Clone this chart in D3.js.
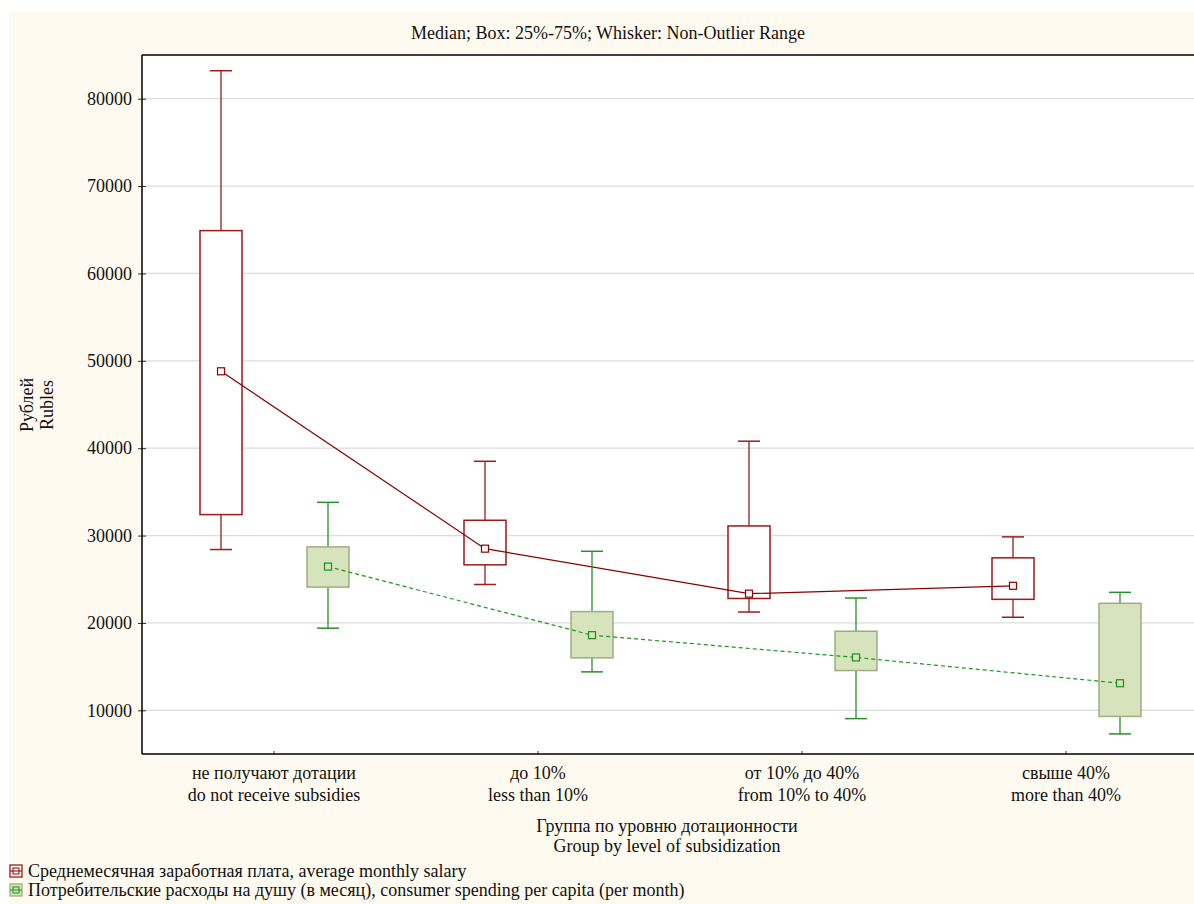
<!DOCTYPE html>
<html><head><meta charset="utf-8">
<script src="https://cdn.jsdelivr.net/npm/d3@7"></script>
<style>
html,body{margin:0;padding:0;background:#fff;overflow:hidden;}
svg{display:block;font-family:"Liberation Serif","Times New Roman",serif;overflow:hidden;}
</style></head>
<body>
<svg id="c" width="1194" height="904"></svg>
<script>
const categories = [
  ["не получают дотации","do not receive subsidies"],
  ["до 10%","less than 10%"],
  ["от 10% до 40%","from 10% to 40%"],
  ["свыше 40%","more than 40%"]
];
const seriesNames = [
  "Среднемесячная заработная плата, average monthly salary",
  "Потребительские расходы на душу (в месяц), consumer spending per capita (per month)"
];
// [whiskerLow, q1, median, q3, whiskerHigh]
const salary = [
  [28400, 32400, 48800, 64900, 83200],
  [24400, 26650, 28500, 31750, 38500],
  [21250, 22800, 23350, 31100, 40800],
  [20650, 22700, 24250, 27450, 29850]
];
const spending = [
  [19400, 24100, 26450, 28700, 33800],
  [14400, 16000, 18600, 21300, 28200],
  [9050, 14550, 16050, 19050, 22850],
  [7300, 9300, 13100, 22250, 23500]
];
const yTicks = [10000, 20000, 30000, 40000, 50000, 60000, 70000, 80000];
const title = "Median; Box: 25%-75%; Whisker: Non-Outlier Range";
const yLabel = ["Рублей", "Rubles"];
const xLabel = ["Группа по уровню дотационности", "Group by level of subsidization"];

const FS = 18;
const svg = d3.select("#c");
const L = 142, T = 55, R = 1198, B = 754;

svg.append("rect").attr("x", 9).attr("y", 12).attr("width", 1200).attr("height", 900).attr("fill", "#fffaf0");
svg.append("rect").attr("x", L).attr("y", T).attr("width", R - L + 10).attr("height", B - T).attr("fill", "#fff");

const x = d3.scaleBand().domain(d3.range(categories.length)).range([L, R]);
const y = d3.scaleLinear().domain([5000, 85000]).range([B, T]);

// grid
svg.append("g").selectAll("line").data(yTicks).join("line")
  .attr("x1", L).attr("x2", R).attr("y1", d => y(d)).attr("y2", d => y(d))
  .attr("stroke", "#dcdcdc").attr("stroke-width", 1.2);

// axes
const yAxis = svg.append("g").attr("transform", `translate(${L},0)`)
  .call(d3.axisLeft(y).tickValues(yTicks).tickSize(4).tickPadding(6).tickFormat(d3.format("d")));
yAxis.select(".domain").remove();
yAxis.selectAll(".tick line").attr("x2", 4).attr("x1", -4).attr("stroke", "#333");
yAxis.selectAll("text").attr("font-size", FS).attr("fill", "#111").attr("font-family", "Liberation Serif");

const xAxis = svg.append("g").attr("transform", `translate(0,${B})`)
  .call(d3.axisBottom(x).tickSize(-3).tickFormat(""));
xAxis.select(".domain").remove();
xAxis.selectAll(".tick line").attr("stroke", "#333");

// border
svg.append("line").attr("x1", L).attr("x2", L).attr("y1", T).attr("y2", B).attr("stroke", "#000").attr("stroke-width", 1.5);
svg.append("line").attr("x1", L).attr("x2", R).attr("y1", T).attr("y2", T).attr("stroke", "#000").attr("stroke-width", 1.5);
svg.append("line").attr("x1", L).attr("x2", R).attr("y1", B).attr("y2", B).attr("stroke", "#000").attr("stroke-width", 1.5);

const cx = i => x(i) + x.bandwidth() / 2;
const series = [
  {data: salary, off: -53, whisk: "#9a1c1c", fill: "#ffffff", boxStroke: "#9b1a1a", line: "#8b0000", dash: null, mfill: "#fff", mstroke: "#8b0000"},
  {data: spending, off: 54, whisk: "#2a8f2a", fill: "#d7e3bc", boxStroke: "#9dad80", line: "#1a9a1a", dash: "4,3", mfill: "#d7e3bc", mstroke: "#159515"}
];
const bw = 42, cap = 22, ms = 7;

series.forEach(s => {
  const g = svg.append("g");
  s.data.forEach((d, i) => {
    const xc = cx(i) + s.off;
    g.append("line").attr("x1", xc).attr("x2", xc).attr("y1", y(d[3])).attr("y2", y(d[4])).attr("stroke", s.whisk).attr("stroke-width", 1.3);
    g.append("line").attr("x1", xc).attr("x2", xc).attr("y1", y(d[1])).attr("y2", y(d[0])).attr("stroke", s.whisk).attr("stroke-width", 1.3);
    g.append("line").attr("x1", xc - cap / 2).attr("x2", xc + cap / 2).attr("y1", y(d[4])).attr("y2", y(d[4])).attr("stroke", s.whisk).attr("stroke-width", 1.5);
    g.append("line").attr("x1", xc - cap / 2).attr("x2", xc + cap / 2).attr("y1", y(d[0])).attr("y2", y(d[0])).attr("stroke", s.whisk).attr("stroke-width", 1.5);
    g.append("rect").attr("x", xc - bw / 2).attr("y", y(d[3])).attr("width", bw).attr("height", y(d[1]) - y(d[3]))
      .attr("fill", s.fill).attr("stroke", s.boxStroke).attr("stroke-width", 1.5);
  });
  const ln = d3.line().x((d, i) => cx(i) + s.off).y(d => y(d[2]));
  g.append("path").attr("d", ln(s.data)).attr("fill", "none").attr("stroke", s.line).attr("stroke-width", 1.2)
    .attr("stroke-dasharray", s.dash);
  s.data.forEach((d, i) => {
    const xc = cx(i) + s.off;
    g.append("rect").attr("x", xc - ms / 2).attr("y", y(d[2]) - ms / 2).attr("width", ms).attr("height", ms)
      .attr("fill", s.mfill).attr("stroke", s.mstroke).attr("stroke-width", 1.2);
  });
});

// title
svg.append("text").attr("x", 608).attr("y", 39).attr("text-anchor", "middle").attr("font-size", FS).attr("fill", "#111").text(title);

// x category labels
categories.forEach((c, i) => {
  const t = svg.append("text").attr("text-anchor", "middle").attr("font-size", FS).attr("fill", "#111");
  t.append("tspan").attr("x", cx(i)).attr("y", 779).text(c[0]);
  t.append("tspan").attr("x", cx(i)).attr("y", 801).text(c[1]);
});

// x axis title
const xt = svg.append("text").attr("text-anchor", "middle").attr("font-size", FS).attr("fill", "#111");
xt.append("tspan").attr("x", 667).attr("y", 832).text(xLabel[0]);
xt.append("tspan").attr("x", 667).attr("y", 852).text(xLabel[1]);

// y axis title
const yt = svg.append("text").attr("text-anchor", "middle").attr("font-size", FS).attr("fill", "#111")
  .attr("transform", "translate(0,405) rotate(-90)");
yt.append("tspan").attr("x", 0).attr("y", 33).text(yLabel[0]);
yt.append("tspan").attr("x", 0).attr("y", 53).text(yLabel[1]);

// legend
seriesNames.forEach((n, i) => {
  const s = series[i];
  const ly = 871 + i * 19;
  const g = svg.append("g");
  g.append("rect").attr("x", 10).attr("y", ly - 6).attr("width", 12).attr("height", 12)
    .attr("fill", s.fill).attr("stroke", s.boxStroke).attr("stroke-width", 1.3);
  g.append("line").attr("x1", 10).attr("x2", 22).attr("y1", ly).attr("y2", ly).attr("stroke", s.line).attr("stroke-width", 1);
  g.append("rect").attr("x", 13).attr("y", ly - 3).attr("width", 6).attr("height", 6)
    .attr("fill", "none").attr("stroke", s.mstroke).attr("stroke-width", 1);
  g.append("text").attr("x", 28).attr("y", ly + 6).attr("font-size", FS).attr("fill", "#111").text(n);
});
</script>
</body></html>
